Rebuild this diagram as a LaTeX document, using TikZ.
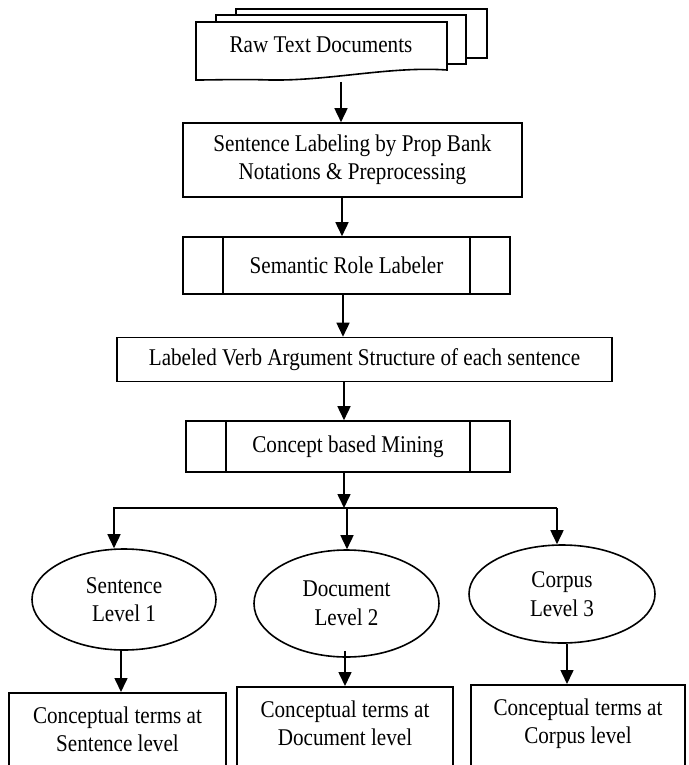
\documentclass[tikz,border=0pt]{standalone}
\usepackage{fontspec}
\setmainfont{Liberation Serif}[FakeStretch=0.88]
\usetikzlibrary{arrows.meta,shapes.geometric}
\newcommand{\flowfont}{\fontsize{24}{28.5}\selectfont}

\tikzset{
  box/.style={draw, align=center, inner sep=0pt, font=\flowfont},
  subproc/.style={box, path picture={
      \draw ([xshift=40pt]path picture bounding box.north west) -- ([xshift=40pt]path picture bounding box.south west);
      \draw ([xshift=-40pt]path picture bounding box.north east) -- ([xshift=-40pt]path picture bounding box.south east);}},
  oval/.style={draw, ellipse, align=center, inner sep=0pt, font=\flowfont},
  result/.style={box, anchor=north, inner ysep=14pt, text depth=30pt},
  flow/.style={-{Triangle[length=14pt,width=13pt]}}
}

\begin{document}
\begin{tikzpicture}[x=1pt, y=-1pt, line width=1.6pt]
			%%%%% START %%%%%
			\clip (0,0) rectangle (688,765);
			\coordinate (spine) at (342,0);
			
			%% stack of documents
			\draw[fill=white] (236,9) rectangle (487,58);
			\draw[fill=white] (216,15) rectangle (466,64);
			\draw[fill=white] (196,22) -- (447,22) -- (447,70)
				.. controls (390,66) and (330,81) .. (270,80)
				.. controls (240,79) and (215,80) .. (196,80) -- cycle;
			\node[font=\flowfont] (raw) at (321,45) {Raw Text Documents};
			\coordinate (rawbot) at (341,82);
			
			%% main chain
			\node[box, minimum width=339pt, minimum height=74pt] (label) at (352.5,160) {Sentence Labeling by Prop Bank\\Notations \& Preprocessing};
			\node[subproc, minimum width=327pt, minimum height=57pt] (srl) at (346.5,265.5) {Semantic Role Labeler};
			\node[box, minimum width=495pt, minimum height=44pt] (verbarg) at (364.5,359.5) {Labeled Verb Argument Structure of each sentence};
			\node[subproc, minimum width=324pt, minimum height=51pt] (mining) at (348,446.5) {Concept based Mining};
			
			\draw[flow] (rawbot) -- (label.north -| rawbot);
			\draw[flow] (label.south -| spine) -- (srl.north -| spine);
			\draw[flow] ([xshift=1pt]srl.south -| spine) -- ([xshift=1pt]verbarg.north -| spine);
			\draw[flow] ([xshift=2pt]verbarg.south -| spine) -- ([xshift=2pt]mining.north -| spine);
			
			%% split into three levels
			\coordinate (busL) at (113,508);
			\coordinate (busR) at (557,508);
			\draw (busL) -- (busR);
			\draw[flow] ([xshift=2pt]mining.south -| spine) -- ([xshift=2pt]busL -| spine);
			
			\node[oval, minimum width=184pt, minimum height=101pt] (sent) at (124,599.5) {Sentence\\Level 1};
			\node[oval, minimum width=185pt, minimum height=107pt] (docu) at (346.5,603.5) {Document\\Level 2};
			\node[oval, minimum width=186pt, minimum height=98pt] (corp) at (562,594) {Corpus\\Level 3};
			
			\draw[flow] ([xshift=1pt]busL) -- ([xshift=1pt]busL |- sent.north);
			\draw[flow] ([xshift=0.5pt]busL -| docu.north) -- ([xshift=0.5pt]docu.north);
			\draw[flow] (busR) -- (busR |- corp.north);
			
			%% conceptual terms
			\node[result, minimum width=217pt] (sentbox) at (117.5,692) {Conceptual terms at\\Sentence level};
			\node[result, minimum width=216pt] (docubox) at (345,686) {Conceptual terms at\\Document level};
			\node[result, minimum width=214pt] (corpbox) at (578,684) {Conceptual terms at\\Corpus level};
			
			\draw[flow] ([xshift=-3pt]sent.south) -- ([xshift=-3pt]sent.south |- sentbox.north);
			\draw[flow] ([yshift=7pt]docubox.north |- docu.south) -- (docubox.north);
			\draw[flow] ([xshift=5pt]corp.south) -- ([xshift=5pt]corp.south |- corpbox.north);
			%%%%% END %%%%%
\end{tikzpicture}
\end{document}
